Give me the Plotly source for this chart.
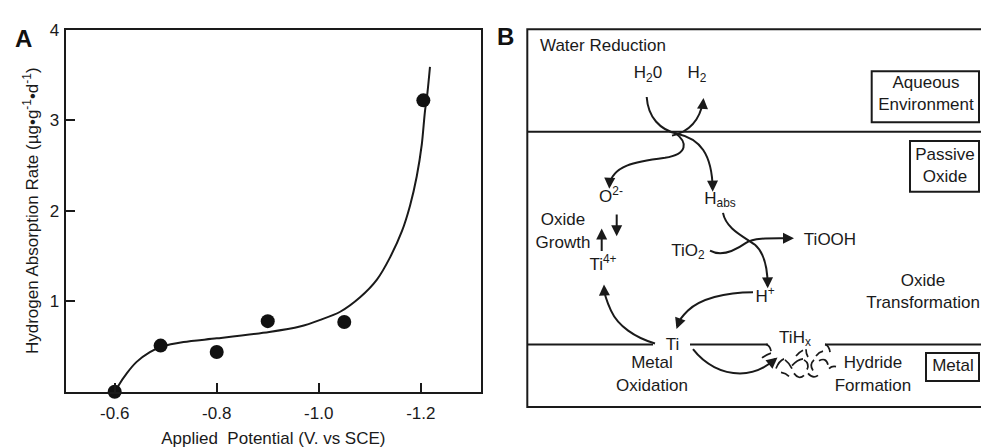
import plotly.graph_objects as go

# ---------------- Panel A data ----------------
potential = [-0.60, -0.69, -0.80, -0.90, -1.05, -1.205]          # V vs SCE
absorption = [0.0, 0.51, 0.44, 0.78, 0.77, 3.22]                 # ug g^-1 d^-1

fit_potential = [-0.603, -0.607, -0.624, -0.643, -0.669, -0.693, -0.735, -0.80,
                 -0.903, -0.963, -1.003, -1.042, -1.081, -1.114, -1.140, -1.163,
                 -1.179, -1.192, -1.202, -1.208, -1.213, -1.218]
fit_rate = [0.02, 0.064, 0.206, 0.33, 0.438, 0.50, 0.55, 0.59,
            0.66, 0.72, 0.794, 0.884, 1.044, 1.239, 1.488, 1.774,
            2.059, 2.379, 2.735, 3.091, 3.304, 3.59]

x_tickvals = [-0.6, -0.8, -1.0, -1.2]
x_ticktext = ["-0.6", "-0.8", "-1.0", "-1.2"]
y_tickvals = [1, 2, 3, 4]
y_ticktext = ["1", "2", "3", "4"]

# ---------------- Panel B labels ----------------
diagram_labels = ["Water Reduction", "H<sub>2</sub>0", "H<sub>2</sub>",
                  "Aqueous<br>Environment", "Passive<br>Oxide",
                  "O<sup>2-</sup>", "H<sub>abs</sub>", "Oxide<br>Growth",
                  "Ti<sup>4+</sup>", "TiO<sub>2</sub>", "TiOOH",
                  "Oxide<br>Transformation", "H<sup>+</sup>", "Ti",
                  "TiH<sub>x</sub>", "Metal<br>Oxidation",
                  "Hydride<br>Formation", "Metal"]

# diagram layout (drawing units = pixels of the 981 x 448 canvas)
label_pos = [(603, 39), (648, 67), (697, 67), (926, 89), (945, 163),
             (611, 195), (720, 197), (563, 231), (603, 266), (688, 251),
             (830, 240), (923, 294), (765, 299), (672.5, 348), (795, 341),
             (652, 379), (873, 379), (953, 370)]

INK = "#1a1a1a"
FONT = "Liberation Sans, Arial, sans-serif"

fig = go.Figure()

# ---- Panel A traces ----
fig.add_trace(go.Scatter(x=fit_potential, y=fit_rate, mode="lines",
                         line=dict(shape="spline", smoothing=0.8, width=2, color=INK),
                         xaxis="x", yaxis="y", hoverinfo="skip"))
fig.add_trace(go.Scatter(x=potential, y=absorption, mode="markers",
                         marker=dict(size=14, color="#111111"),
                         cliponaxis=False, xaxis="x", yaxis="y"))

# ---- Panel B text ----
fig.add_trace(go.Scatter(x=[p[0] for p in label_pos], y=[p[1] for p in label_pos],
                         text=diagram_labels, mode="text",
                         textposition="middle center",
                         textfont=dict(family=FONT, size=17, color=INK),
                         xaxis="x2", yaxis="y2", hoverinfo="skip"))

shapes = []
LW = 2


def line(x0, y0, x1, y1, w=LW):
    shapes.append(dict(type="line", xref="x2", yref="y2", x0=x0, y0=y0, x1=x1, y1=y1,
                       line=dict(color=INK, width=w)))


def rect(x0, y0, x1, y1, w=LW):
    shapes.append(dict(type="rect", xref="x2", yref="y2", x0=x0, y0=y0, x1=x1, y1=y1,
                       line=dict(color=INK, width=w)))


def path(d, w=LW):
    shapes.append(dict(type="path", xref="x2", yref="y2", path=d,
                       line=dict(color=INK, width=w)))


# frame and layer boundaries
rect(527.3, 21, 995, 411.7)
line(527.3, 127, 990, 127)
line(527.3, 347, 653, 347)
line(690, 347, 768, 347)
line(825, 347, 990, 347)

# legend boxes
rect(871.7, 64.3, 979, 117.3)
rect(910, 136.5, 979, 189)
rect(926, 356, 979, 385)

# curved reaction arrows
path("M 646.7,91 C 648,112 660,125 677,129 C 700,134 712,150 712.7,186")
path("M 672,131 Q 698,125 703.3,95")
path("M 675,128 C 688,138 688,150 665,154 C 635,158 612,162 609.3,183")
path("M 723,211 C 726,228 745,236 755,244 C 764,252 767.5,266 767.7,286")
path("M 710,250 C 722,257 735,250 746,242 C 753,237 765,237 791,237.3")
path("M 753,293 C 725,293 700,300 688,312 C 682,318 678,324 677,328")
path("M 655,346 C 635,340 618,328 611,312 C 606,301 604,294 604,288")
path("M 693,352 C 705,368 722,377 740,377 C 756,377 767,370 775,362")

# hydride squiggles
squiggles = ["M 766,347 Q 770,348 771,354", "M 762,361 Q 767,357 771,356",
             "M 776,372 Q 779,364 784,362", "M 785,363 Q 789,366 792,372",
             "M 781,376 Q 786,377 789,380", "M 796,359 Q 799,355 803,353",
             "M 792,369 Q 797,363 803,362", "M 794,377 Q 799,384 804,379",
             "M 806,352 Q 806,357 808,360", "M 804,363 Q 810,367 807,373",
             "M 814,363 Q 809,368 813,374", "M 808,377 Q 813,383 818,379",
             "M 816,359 Q 819,355 823,354", "M 819,364 Q 826,360 828,368",
             "M 825,347 Q 829,348 830,355", "M 829,372 Q 832,369 836,370"]
for s in squiggles:
    path(s, w=1.7)

# arrowheads (tip, tail)
heads = [((712.7, 189), (712.6, 181)), ((703.5, 92), (702.8, 100)),
         ((609.3, 186), (609.6, 178)), ((767.7, 289), (767.6, 281)),
         ((794, 237.3), (786, 237.3)), ((676.5, 331), (679, 324)),
         ((604, 285), (604.3, 293)), ((777.5, 360.5), (771, 366)),
         ((616.7, 235), (616.7, 211)), ((601.7, 227), (601.7, 252))]
for tip, tail in heads:
    fig.add_annotation(x=tip[0], y=tip[1], ax=tail[0], ay=tail[1],
                       xref="x2", yref="y2", axref="x2", ayref="y2",
                       showarrow=True, arrowhead=2, arrowsize=1.1, arrowwidth=2,
                       arrowcolor=INK, text="", standoff=0, startstandoff=0)

# panel letters
fig.add_annotation(x=23, y=30, xref="x2", yref="y2", text="<b>A</b>", showarrow=False,
                   font=dict(family=FONT, size=24, color="#111111"))
fig.add_annotation(x=505.5, y=28, xref="x2", yref="y2", text="<b>B</b>", showarrow=False,
                   font=dict(family=FONT, size=24, color="#111111"))

fig.update_layout(
    width=981, height=448,
    margin=dict(l=0, r=0, t=0, b=0),
    paper_bgcolor="white", plot_bgcolor="rgba(0,0,0,0)",
    showlegend=False,
    font=dict(family=FONT, color=INK),
    shapes=shapes,
    xaxis=dict(domain=[65.7 / 981, 481 / 981], range=[-0.504, -1.318], anchor="y",
               tickvals=x_tickvals, ticktext=x_ticktext,
               ticks="inside", ticklen=9, tickwidth=2, tickcolor=INK,
               showline=True, mirror=True, linewidth=2, linecolor=INK,
               showgrid=False, zeroline=False, ticklabelstandoff=5,
               tickfont=dict(family=FONT, size=17, color=INK),
               title=dict(text="Applied\u00a0 Potential (V. vs SCE)",
                          font=dict(family=FONT, size=17, color=INK), standoff=13)),
    yaxis=dict(domain=[(448 - 396) / 448, (448 - 21.5) / 448], range=[0, 4], anchor="x",
               tickvals=y_tickvals, ticktext=y_ticktext,
               ticks="inside", ticklen=9, tickwidth=2, tickcolor=INK,
               showline=True, mirror=True, linewidth=2, linecolor=INK,
               showgrid=False, zeroline=False, ticklabelstandoff=1,
               tickfont=dict(family=FONT, size=17, color=INK),
               title=dict(text="Hydrogen Absorption Rate (µg•g<sup>-1</sup>•d<sup>-1</sup>)",
                          font=dict(family=FONT, size=17, color=INK), standoff=7)),
    xaxis2=dict(domain=[0, 1], range=[0, 981], visible=False, anchor="y2", fixedrange=True),
    yaxis2=dict(domain=[0, 1], range=[448, 0], visible=False, anchor="x2", fixedrange=True),
)

fig.write_html("out.html")
